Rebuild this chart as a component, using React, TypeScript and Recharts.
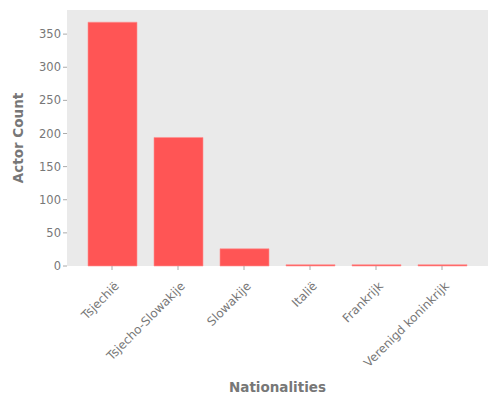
import { Bar, BarChart, CartesianGrid, XAxis, YAxis } from "recharts";

const nationalities = [
  "Tsjechië",
  "Tsjecho-Slowakije",
  "Slowakije",
  "Italië",
  "Frankrijk",
  "Verenigd koninkrijk",
];
const actorCounts = [368, 194, 26, 2, 2, 2];
const yTicks = [0, 50, 100, 150, 200, 250, 300, 350];

const data = nationalities.map((name, i) => ({ name, count: actorCounts[i] }));

const FONT = "'DejaVu Sans', sans-serif";
const TEXT = "#777777";

function XTick({ x, y, payload }: any) {
  return (
    <g transform={`translate(${x + 5},${y + 12})`}>
      <text
        textAnchor="end"
        transform="rotate(-45)"
        fontSize={12}
        fontFamily={FONT}
        fill={TEXT}
        dy={4}
      >
        {payload.value}
      </text>
    </g>
  );
}

export default function App() {
  return (
    <div style={{ position: "absolute", left: 0, top: 0, background: "#fff" }}>
      <BarChart
        width={500}
        height={400}
        data={data}
        margin={{ top: 10, right: 12, left: 0, bottom: 0 }}
        barSize={49}
      >
        <rect x={67} y={10} width={421} height={256} fill="#EAEAEA" />
        <CartesianGrid stroke="#ffffff" strokeWidth={1} vertical={false} />
        <XAxis
          dataKey="name"
          interval={0}
          height={134}
          axisLine={false}
          tickSize={4}
          tickLine={{ stroke: "#aaaaaa" }}
          padding={{ left: 12, right: 13 }}
          tick={<XTick />}
          label={{
            value: "Nationalities",
            position: "insideBottom",
            offset: 8,
            fill: TEXT,
            fontSize: 13.5,
            fontWeight: "bold",
            fontFamily: FONT,
          }}
        />
        <YAxis
          width={67}
          domain={[0, 386.4]}
          ticks={yTicks}
          axisLine={false}
          tickSize={4}
          tickLine={{ stroke: "#aaaaaa" }}
          tick={{ fontSize: 11.5, fill: TEXT, fontFamily: FONT }}
          label={{
            value: "Actor Count",
            angle: -90,
            position: "insideLeft",
            offset: 18,
            style: { textAnchor: "middle" },
            fill: TEXT,
            fontSize: 13.5,
            fontWeight: "bold",
            fontFamily: FONT,
          }}
        />
        <Bar
          dataKey="count"
          fill="#FF5555"
          stroke="#FF9090"
          strokeWidth={0.6}
          isAnimationActive={false}
        />
      </BarChart>
    </div>
  );
}
